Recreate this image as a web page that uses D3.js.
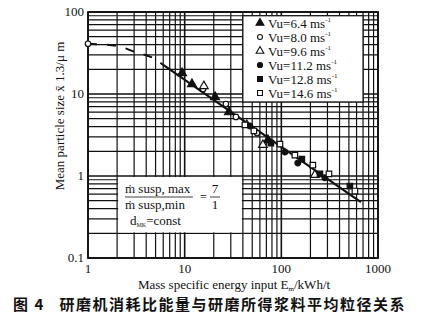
<!DOCTYPE html>
<html>
<head>
<meta charset="utf-8">
<script src="https://cdn.jsdelivr.net/npm/d3@7/dist/d3.min.js"></script>
<style>
  html, body { margin: 0; padding: 0; background: #fff; }
  svg { display: block; }
  text { font-family: "Liberation Serif", "DejaVu Serif", serif; fill: #111; }
  .cjk { font-family: "Noto Sans CJK SC", sans-serif; }
</style>
</head>
<body>
<svg id="chart" width="443" height="331"></svg>
<script>
// Mean particle size against mass specific energy input (log-log)
const xTickValues = [1, 10, 100, 1000];
const xTickLabels = ["1", "10", "100", "1000"];
const yTickValues = [0.1, 1, 10, 100];
const yTickLabels = ["0.1", "1", "10", "100"];

const seriesNames = ["Vu=6.4 ms", "Vu=8.0 ms", "Vu=9.6 ms", "Vu=11.2 ms", "Vu=12.8 ms", "Vu=14.6 ms"];

// energy input (kWh/t) and particle size (µm) per series
const s64E  = [9.4, 11.9, 20.6, 28.7, 72.6];
const s64X  = [18.0, 13.2, 9.2, 6.0, 2.75];
const s80E  = [1, 15.5, 26.7, 33.9, 56];
const s80X  = [41, 11.5, 7.55, 5.25, 3.34];
const s96E  = [15.8, 44, 64.5, 222];
const s96X  = [12.5, 4.19, 2.39, 1.03];
const s112E = [47.3, 109, 148, 282];
const s112X = [4.08, 1.96, 1.44, 0.95];
const s128E = [78, 163, 251, 512];
const s128X = [2.52, 1.61, 1.06, 0.755];
const s146E = [42, 52, 96.8, 138, 212, 311, 577];
const s146X = [4.19, 3.54, 2.45, 1.80, 1.36, 1.06, 0.656];

// fitted trend: curved dashed start, straight solid part
const dashE = [1, 2, 3.06, 4.93, 6.0];
const dashX = [41, 38.5, 32.5, 26.7, 22.6];
const solidE = [6.0, 666];
const solidX = [22.6, 0.48];

const seriesE = [s64E, s80E, s96E, s112E, s128E, s146E];
const seriesX = [s64X, s80X, s96X, s112X, s128X, s146X];
const seriesShape = [d3.symbolTriangle, d3.symbolCircle, d3.symbolTriangle, d3.symbolCircle, d3.symbolSquare, d3.symbolSquare];
const seriesFilled = [true, false, false, true, true, false];
const seriesSize = [34, 24, 32, 26, 30, 30];

const svg = d3.select("#chart");
const x = d3.scaleLog().domain([1, 1000]).range([88, 378]);
const y = d3.scaleLog().domain([0.1, 100]).range([258, 12]);
const ink = "#111";

// log-paper grid
const grid = svg.append("g");
grid.selectAll("line.v").data(x.ticks()).join("line")
  .attr("x1", d => x(d)).attr("x2", d => x(d))
  .attr("y1", y(100)).attr("y2", y(0.1))
  .attr("stroke", ink)
  .attr("stroke-width", d => xTickValues.includes(d) ? 1.6 : 1.2);
grid.selectAll("line.h").data(y.ticks()).join("line")
  .attr("y1", d => y(d)).attr("y2", d => y(d))
  .attr("x1", x(1)).attr("x2", x(1000))
  .attr("stroke", ink)
  .attr("stroke-width", d => yTickValues.includes(d) ? 1.6 : 1.2);
svg.append("rect")
  .attr("x", x(1)).attr("y", y(100))
  .attr("width", x(1000) - x(1)).attr("height", y(0.1) - y(100))
  .attr("fill", "none").attr("stroke", ink).attr("stroke-width", 1.8);

// annotation panel (lower left)
svg.append("rect")
  .attr("x", x(2) + 1).attr("y", y(1) + 1)
  .attr("width", x(40) - x(2) - 2).attr("height", y(0.2) - y(1) - 2)
  .attr("fill", "#fff");

// legend panel (upper right)
svg.append("rect")
  .attr("x", x(40)).attr("y", y(90))
  .attr("width", x(700) - x(40)).attr("height", y(8) - y(90))
  .attr("fill", "#fff").attr("stroke", ink).attr("stroke-width", 1.2);

// trend lines
const line = d3.line().x(d => x(d[0])).y(d => y(d[1])).curve(d3.curveMonotoneX);
svg.append("path")
  .attr("d", line(d3.zip(dashE, dashX)))
  .attr("fill", "none").attr("stroke", ink).attr("stroke-width", 2)
  .attr("stroke-dasharray", "9,10");
svg.append("path")
  .attr("d", line(d3.zip(solidE, solidX)))
  .attr("fill", "none").attr("stroke", ink).attr("stroke-width", 2.2);

// data markers
seriesE.forEach((es, i) => {
  const sym = d3.symbol().type(seriesShape[i]).size(seriesSize[i]);
  svg.append("g").selectAll("path").data(d3.zip(es, seriesX[i])).join("path")
    .attr("transform", d => `translate(${x(d[0])},${y(d[1])})`)
    .attr("d", sym)
    .attr("fill", seriesFilled[i] ? ink : "#fff")
    .attr("stroke", ink).attr("stroke-width", 1.2);
});

// legend
const lg = svg.append("g");
seriesNames.forEach((name, i) => {
  const yy = 24 + i * 14;
  lg.append("path")
    .attr("transform", `translate(260,${yy - 1})`)
    .attr("d", d3.symbol().type(seriesShape[i]).size(seriesSize[i] * 0.8)())
    .attr("fill", seriesFilled[i] ? ink : "#fff")
    .attr("stroke", ink).attr("stroke-width", 1.1);
  const t = lg.append("text").attr("x", 268).attr("y", yy + 4).attr("font-size", 13);
  t.append("tspan").text(name);
  t.append("tspan").attr("font-size", 7).attr("dy", -6).text("-1");
});

// axis tick labels
svg.append("g").selectAll("text").data(xTickValues).join("text")
  .attr("x", d => x(d)).attr("y", 273)
  .attr("text-anchor", "middle").attr("font-size", 13)
  .text((d, i) => xTickLabels[i]);
svg.append("g").selectAll("text").data(yTickValues).join("text")
  .attr("x", 84).attr("y", d => y(d) + 4)
  .attr("text-anchor", "end").attr("font-size", 13)
  .text((d, i) => yTickLabels[i]);

// axis titles
const xt = svg.append("text").attr("x", 234).attr("y", 289)
  .attr("text-anchor", "middle").attr("font-size", 13);
xt.append("tspan").text("Mass specific energy input E");
xt.append("tspan").attr("font-size", 7).attr("dy", 2).text("m");
xt.append("tspan").attr("dy", -2).text("/kWh/t");

const yt = svg.append("text")
  .attr("transform", "translate(64,116) rotate(-90)")
  .attr("text-anchor", "middle").attr("font-size", 13);
yt.append("tspan").text("Mean particle size x\u0304 1.3/\u03bc m");

// annotation text
const ann = svg.append("g");
ann.append("text").attr("x", 125).attr("y", 193).attr("font-size", 13).text("\u1e41 susp, max");
ann.append("line").attr("x1", 125).attr("x2", 193).attr("y1", 197).attr("y2", 197)
  .attr("stroke", ink).attr("stroke-width", 0.8);
ann.append("text").attr("x", 125).attr("y", 209).attr("font-size", 13).text("\u1e41 susp,min");
ann.append("text").attr("x", 200).attr("y", 201).attr("font-size", 12).text("=");
ann.append("text").attr("x", 215).attr("y", 193).attr("font-size", 13).attr("text-anchor", "middle").text("7");
ann.append("line").attr("x1", 210).attr("x2", 220).attr("y1", 197).attr("y2", 197)
  .attr("stroke", ink).attr("stroke-width", 0.8);
ann.append("text").attr("x", 215).attr("y", 209).attr("font-size", 13).attr("text-anchor", "middle").text("1");
const dt = ann.append("text").attr("x", 130).attr("y", 225).attr("font-size", 13);
dt.append("tspan").text("d");
dt.append("tspan").attr("font-size", 6).attr("dy", 2).text("MK");
dt.append("tspan").attr("dy", -2).text("=const");

// caption
svg.append("text").attr("class", "cjk")
  .attr("x", 13).attr("y", 310).attr("font-size", 15)
  .attr("font-weight", "bold")
  .attr("xml:space", "preserve")
  .style("white-space", "pre")
  .attr("letter-spacing", 1.5)
  .text("图 4   研磨机消耗比能量与研磨所得浆料平均粒径关系");
</script>
</body>
</html>
